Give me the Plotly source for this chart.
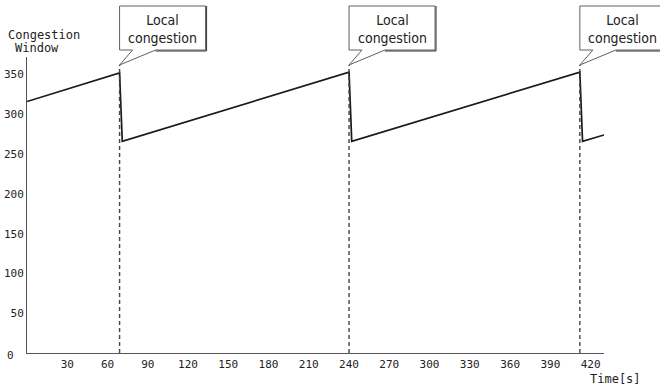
import plotly.graph_objects as go

# Congestion window over time (sawtooth with local congestion events)
time_s = [0, 69, 71, 240, 242, 412, 414, 430]
cwnd = [316, 352, 266, 353, 266, 353, 266, 274]
congestion_times = [69, 240, 412]
x_ticks = [30, 60, 90, 120, 150, 180, 210, 240, 270, 300, 330, 360, 390, 420]
y_ticks = [50, 100, 150, 200, 250, 300, 350]
callout_text = "Local<br>congestion"

W, H = 660, 385
M_L, M_R, M_T, M_B = 27, 56, 57, 32
X_RANGE = [0, 430]
Y_RANGE = [0, 372]
PW = W - M_L - M_R
PH = H - M_T - M_B

MONO = "DejaVu Sans Mono"
NARROW = "DejaVu Sans Condensed, sans-serif"


def xp(t):
    return (t - X_RANGE[0]) / (X_RANGE[1] - X_RANGE[0])


def dx(px):
    return px / PW


def dy(px):
    return px / PH


fig = go.Figure()

fig.add_trace(go.Scatter(
    x=time_s, y=cwnd, mode="lines",
    line=dict(color="#1a1a1a", width=1.7),
    hoverinfo="skip", showlegend=False,
))

tip_y = 1 - dy(8)
shapes = []
annotations = []
for t in congestion_times:
    x0 = xp(t)
    # dashed marker from the axis up to the callout tip
    shapes.append(dict(
        type="line", xref="paper", yref="paper",
        x0=x0, x1=x0, y0=0, y1=tip_y,
        line=dict(color="#444444", width=1.4, dash="4px,3px"),
    ))
    left = x0
    right = x0 + dx(86)
    top = 1 + dy(51)
    bottom = 1 + dy(7)
    w1 = x0 + dx(13)
    w2 = x0 + dx(36)
    path = (f"M{left},{bottom} L{left},{top} L{right},{top} L{right},{bottom} "
            f"L{w2},{bottom} L{x0},{tip_y} L{w1},{bottom} Z")
    shapes.append(dict(
        type="path", xref="paper", yref="paper", path=path,
        fillcolor="white", line=dict(color="#606060", width=1),
    ))
    # darker edge along the right and bottom of the box
    shapes.append(dict(
        type="path", xref="paper", yref="paper",
        path=f"M{right + dx(1)},{top} L{right + dx(1)},{bottom - dy(1)} L{w2},{bottom - dy(1)}",
        line=dict(color="#333333", width=1),
    ))
    annotations.append(dict(
        xref="paper", yref="paper",
        x=x0 + dx(43), y=1 + dy(28),
        text=callout_text, showarrow=False,
        font=dict(family=NARROW, size=14, color="#222222"),
        align="center", xanchor="center", yanchor="middle",
    ))

annotations += [
    dict(xref="paper", yref="paper", x=dx(6 - M_L), y=1 + dy(M_T - 35),
         text="Congestion", showarrow=False, xanchor="left", yanchor="middle",
         font=dict(family=MONO, size=12, color="#222222")),
    dict(xref="paper", yref="paper", x=dx(13 - M_L), y=1 + dy(M_T - 48),
         text="Window", showarrow=False, xanchor="left", yanchor="middle",
         font=dict(family=MONO, size=12, color="#222222")),
    dict(xref="paper", yref="paper", x=dx(643 - M_L), y=-dy(379 - (H - M_B)),
         text="Time[s]", showarrow=False, xanchor="right", yanchor="middle",
         font=dict(family=MONO, size=12, color="#222222")),
    dict(xref="paper", yref="paper", x=dx(10.5 - M_L), y=-dy(2),
         text="0", showarrow=False, xanchor="center", yanchor="middle",
         font=dict(family=MONO, size=11, color="#222222")),
]

fig.update_layout(
    width=W, height=H,
    margin=dict(l=M_L, r=M_R, t=M_T, b=M_B, autoexpand=False),
    paper_bgcolor="white", plot_bgcolor="white",
    shapes=shapes, annotations=annotations,
    showlegend=False,
)
fig.update_xaxes(
    range=X_RANGE, tickvals=x_ticks, ticktext=[str(v) for v in x_ticks],
    showgrid=False, zeroline=False, showline=True, linecolor="#555555", linewidth=1,
    ticks="", automargin=False, ticklabelstandoff=1,
    tickfont=dict(family=MONO, size=11, color="#222222"),
)
fig.update_yaxes(
    range=Y_RANGE, tickvals=y_ticks, ticktext=[str(v) for v in y_ticks],
    showgrid=False, zeroline=False, showline=True, linecolor="#555555", linewidth=1,
    ticks="", automargin=False,
    tickfont=dict(family=MONO, size=11, color="#222222"),
)

fig.write_html("out.html")
